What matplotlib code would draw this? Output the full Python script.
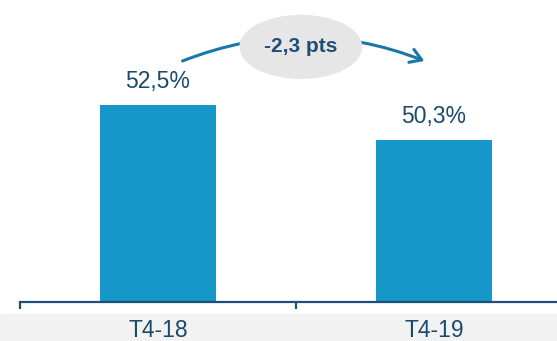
import matplotlib.pyplot as plt
from matplotlib.patches import Ellipse, Rectangle

plt.rcParams['font.family'] = ['Liberation Sans', 'DejaVu Sans']

periods = ["T4-18", "T4-19"]
rates = [52.5, 50.3]
labels = ["52,5%", "50,3%"]
change_label = "-2,3 pts"

bar_color = "#1597c9"
text_color = "#1b4a6b"
axis_color = "#1f4e79"
arrow_color = "#1a78a8"

fig = plt.figure(figsize=(5.57, 3.41), dpi=100)

# grey band behind the category labels
fig.patches.append(Rectangle((0, 0), 1, 0.079, transform=fig.transFigure,
                             color="#f2f2f2", zorder=-1))

ax = fig.add_axes([0, 0.1144, 1, 0.8856])
ax.patch.set_alpha(0)
x = list(range(len(periods)))
ax.bar(x, rates, width=0.42, color=bar_color, zorder=2)

for xi, v, lab in zip(x, rates, labels):
    ax.text(xi, v + 0.75, lab, ha="center", va="bottom", fontsize=16.5, color=text_color)

for s in ["top", "right", "left"]:
    ax.spines[s].set_visible(False)
ax.spines["bottom"].set_color(axis_color)
ax.spines["bottom"].set_linewidth(1.6)
ax.spines["bottom"].set_bounds(-0.5, 1.446)
ax.set_yticks([])
ax.set_xticks([-0.5, 0.5, 1.5])
ax.set_xticklabels([])
ax.tick_params(axis="x", length=5, width=1.6, color=axis_color)
ax.set_xlim(-0.572, 1.446)
ax.set_ylim(40.1, 59.1)

for xi, p in zip(x, periods):
    ax.text(xi, -0.095, p, transform=ax.get_xaxis_transform(), ha="center", va="center",
            fontsize=16.5, color=text_color, clip_on=False, zorder=5)

# change arrow with bubble
ax.annotate("", xy=(0.975, 55.2), xytext=(0.08, 55.2),
            arrowprops=dict(arrowstyle="->,head_length=0.8,head_width=0.5", color=arrow_color,
                            lw=2.2, connectionstyle="arc3,rad=-0.2"), zorder=3)
ax.add_patch(Ellipse((0.518, 56.15), 0.44, 3.95, color="#e6e6e6", zorder=4))
ax.text(0.518, 56.15, change_label, ha="center", va="center", fontsize=15,
        fontweight="bold", color=axis_color, zorder=5)

fig.savefig("out.png", dpi=100)
